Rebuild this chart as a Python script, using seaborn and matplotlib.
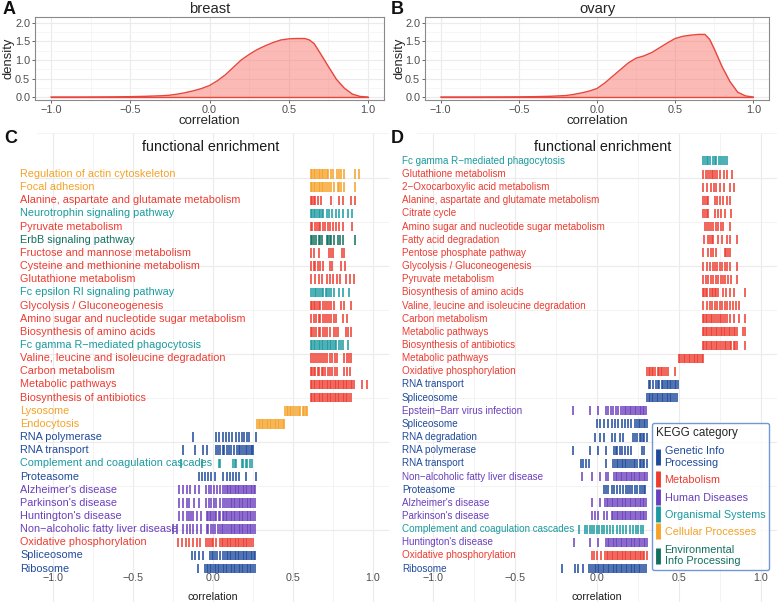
import numpy as np
import pandas as pd
import matplotlib
matplotlib.use("Agg")
import matplotlib.pyplot as plt
import seaborn as sns
from matplotlib.lines import Line2D

# ---------- data ----------

breast_x = [-1.0, -0.8, -0.6, -0.5, -0.4, -0.3, -0.25, -0.2, -0.15, -0.1, -0.05, 0.0, 0.05,
            0.1, 0.15, 0.2, 0.25, 0.3, 0.35, 0.4, 0.45, 0.5, 0.55, 0.6, 0.63, 0.66, 0.7,
            0.75, 0.8, 0.85, 0.9, 0.95, 1.0]
breast_y = [0.0, 0.0, 0.005, 0.01, 0.02, 0.035, 0.05, 0.08, 0.12, 0.17, 0.23, 0.31, 0.44,
            0.6, 0.8, 1.0, 1.15, 1.28, 1.38, 1.47, 1.54, 1.57, 1.58, 1.58, 1.54, 1.44, 1.17,
            0.82, 0.48, 0.24, 0.08, 0.015, 0.0]

ovary_x = [-1.0, -0.8, -0.6, -0.5, -0.4, -0.3, -0.2, -0.15, -0.1, -0.05, 0.0, 0.05, 0.1,
           0.15, 0.2, 0.25, 0.3, 0.35, 0.4, 0.45, 0.5, 0.55, 0.6, 0.65, 0.69, 0.72, 0.75,
           0.8, 0.85, 0.9, 0.95, 1.0]
ovary_y = [0.0, 0.0, 0.003, 0.005, 0.01, 0.02, 0.04, 0.07, 0.11, 0.16, 0.23, 0.38, 0.56,
           0.74, 0.92, 1.05, 1.11, 1.2, 1.33, 1.46, 1.58, 1.64, 1.67, 1.69, 1.69, 1.56, 1.3,
           0.82, 0.42, 0.13, 0.03, 0.0]

kegg_labels = {
    "G": "Genetic Info\nProcessing",
    "M": "Metabolism",
    "H": "Human Diseases",
    "O": "Organismal Systems",
    "C": "Cellular Processes",
    "E": "Environmental\nInfo Processing",
}
kegg_colors = {
    "G": "#1f4a9c",
    "M": "#ee3b30",
    "H": "#6a3fbd",
    "O": "#1a9a9f",
    "C": "#f5a226",
    "E": "#12705e",
}

breast_terms = [
    "Regulation of actin cytoskeleton", "Focal adhesion",
    "Alanine, aspartate and glutamate metabolism", "Neurotrophin signaling pathway",
    "Pyruvate metabolism", "ErbB signaling pathway", "Fructose and mannose metabolism",
    "Cysteine and methionine metabolism", "Glutathione metabolism",
    "Fc epsilon RI signaling pathway", "Glycolysis / Gluconeogenesis",
    "Amino sugar and nucleotide sugar metabolism", "Biosynthesis of amino acids",
    "Fc gamma R\u2212mediated phagocytosis", "Valine, leucine and isoleucine degradation",
    "Carbon metabolism", "Metabolic pathways", "Biosynthesis of antibiotics",
    "Lysosome", "Endocytosis", "RNA polymerase", "RNA transport",
    "Complement and coagulation cascades", "Proteasome", "Alzheimer's disease",
    "Parkinson's disease", "Huntington's disease", "Non\u2212alcoholic fatty liver disease",
    "Oxidative phosphorylation", "Spliceosome", "Ribosome",
]
breast_cats = ["C", "C", "M", "O", "M", "E", "M", "M", "M", "O", "M", "M", "M", "O", "M",
               "M", "M", "M", "C", "C", "G", "G", "O", "G", "H", "H", "H", "H", "M", "G", "G"]
breast_corr = [
    [0.61, 0.62, 0.63, 0.64, 0.65, 0.66, 0.67, 0.68, 0.69, 0.70, 0.71, 0.72, 0.735, 0.75,
     0.775, 0.79, 0.80, 0.82, 0.89, 0.91],
    [0.61, 0.62, 0.63, 0.64, 0.65, 0.66, 0.67, 0.68, 0.69, 0.70, 0.71, 0.725, 0.74, 0.755,
     0.78, 0.79, 0.80, 0.82, 0.89],
    [0.61, 0.62, 0.63, 0.64, 0.655, 0.675, 0.74, 0.79, 0.81, 0.865, 0.885],
    [0.61, 0.62, 0.63, 0.64, 0.65, 0.66, 0.67, 0.68, 0.69, 0.71, 0.725, 0.745, 0.77, 0.79,
     0.815, 0.845, 0.87],
    [0.61, 0.62, 0.635, 0.65, 0.66, 0.67, 0.685, 0.70, 0.72, 0.73, 0.75, 0.77, 0.79, 0.815,
     0.87],
    [0.61, 0.62, 0.63, 0.645, 0.66, 0.67, 0.68, 0.71, 0.72, 0.73, 0.74, 0.755, 0.78, 0.795,
     0.815, 0.89],
    [0.615, 0.63, 0.665, 0.725, 0.735, 0.75, 0.805, 0.82],
    [0.61, 0.63, 0.64, 0.655, 0.67, 0.685, 0.73, 0.745, 0.80, 0.825],
    [0.61, 0.635, 0.66, 0.68, 0.715, 0.73, 0.75, 0.775, 0.795, 0.83, 0.855, 0.88],
    [0.615, 0.625, 0.635, 0.645, 0.655, 0.67, 0.68, 0.69, 0.705, 0.715, 0.725, 0.74, 0.755,
     0.79, 0.81, 0.85],
    [0.61, 0.62, 0.63, 0.64, 0.65, 0.66, 0.67, 0.685, 0.70, 0.71, 0.725, 0.735, 0.755, 0.80,
     0.82, 0.865],
    [0.615, 0.63, 0.645, 0.66, 0.67, 0.685, 0.70, 0.71, 0.725, 0.74, 0.755, 0.77, 0.815,
     0.835],
    [0.61, 0.62, 0.63, 0.645, 0.66, 0.67, 0.685, 0.70, 0.71, 0.73, 0.755, 0.77, 0.78, 0.83,
     0.845, 0.86],
    [0.61, 0.62, 0.63, 0.64, 0.65, 0.66, 0.67, 0.68, 0.69, 0.70, 0.71, 0.72, 0.73, 0.74,
     0.75, 0.76, 0.77, 0.785, 0.80, 0.815, 0.845],
    [0.615, 0.625, 0.635, 0.65, 0.66, 0.675, 0.69, 0.70, 0.715, 0.73, 0.745, 0.76, 0.775,
     0.82, 0.835, 0.85, 0.865],
    [0.61, 0.62, 0.63, 0.64, 0.655, 0.665, 0.68, 0.69, 0.70, 0.72, 0.73, 0.745, 0.76, 0.775,
     0.82, 0.835, 0.855],
    [0.61, 0.62, 0.63, 0.64, 0.65, 0.66, 0.67, 0.68, 0.69, 0.70, 0.71, 0.72, 0.73, 0.74,
     0.75, 0.76, 0.77, 0.78, 0.79, 0.80, 0.81, 0.82, 0.83, 0.84, 0.85, 0.86, 0.87, 0.88,
     0.93, 0.96],
    [0.61, 0.62, 0.63, 0.64, 0.65, 0.66, 0.67, 0.68, 0.69, 0.70, 0.71, 0.72, 0.73, 0.74,
     0.75, 0.76, 0.77, 0.78, 0.79, 0.80, 0.81, 0.82, 0.83, 0.84, 0.85, 0.86],
    [0.45, 0.46, 0.47, 0.48, 0.49, 0.50, 0.51, 0.525, 0.535, 0.545, 0.56, 0.57, 0.58, 0.59],
    [0.275, 0.285, 0.295, 0.305, 0.315, 0.325, 0.335, 0.345, 0.355, 0.365, 0.375, 0.385,
     0.395, 0.405, 0.415, 0.425, 0.435, 0.445],
    [-0.123, 0.02, 0.04, 0.06, 0.08, 0.10, 0.12, 0.145, 0.165, 0.18, 0.195, 0.215, 0.227,
     0.27],
    [-0.185, -0.113, -0.06, -0.04, 0.02, 0.03, 0.045, 0.06, 0.07, 0.085, 0.10, 0.115, 0.13,
     0.15, 0.16, 0.17, 0.18, 0.195, 0.205, 0.215, 0.225, 0.235, 0.245, 0.25],
    [-0.2, -0.07, 0.035, 0.045, 0.125, 0.135, 0.145, 0.18, 0.19, 0.205, 0.215, 0.23, 0.245],
    [-0.085, -0.07, -0.05, -0.03, -0.01, 0.01, 0.065, 0.085, 0.105, 0.125, 0.145, 0.165,
     0.205, 0.27],
    [-0.215, -0.19, -0.163, -0.142, -0.115, -0.085, -0.045, -0.025, -0.01, 0.005, 0.025,
     0.045, 0.065, 0.075, 0.085, 0.095, 0.105, 0.115, 0.125, 0.135, 0.145, 0.155, 0.165,
     0.175, 0.185, 0.195, 0.205, 0.215, 0.225, 0.235, 0.245, 0.255, 0.265],
    [-0.215, -0.185, -0.163, -0.15, -0.12, -0.085, -0.045, -0.025, -0.01, 0.005, 0.02,
     0.045, 0.065, 0.075, 0.09, 0.10, 0.11, 0.12, 0.13, 0.14, 0.15, 0.16, 0.17, 0.18, 0.19,
     0.20, 0.21, 0.22, 0.23, 0.24, 0.25, 0.265],
    [-0.215, -0.185, -0.16, -0.148, -0.135, -0.123, -0.102, -0.077, -0.04, -0.03, -0.02,
     -0.01, 0.0, 0.01, 0.02, 0.035, 0.045, 0.06, 0.07, 0.08, 0.09, 0.10, 0.11, 0.12, 0.13,
     0.14, 0.15, 0.16, 0.17, 0.18, 0.19, 0.20, 0.21, 0.22, 0.23, 0.24, 0.25, 0.265],
    [-0.248, -0.227, -0.185, -0.165, -0.144, -0.123, -0.10, -0.077, -0.04, -0.03, -0.015,
     0.0, 0.015, 0.03, 0.045, 0.055, 0.065, 0.075, 0.09, 0.10, 0.11, 0.12, 0.13, 0.14, 0.15,
     0.16, 0.17, 0.18, 0.19, 0.20, 0.21, 0.22, 0.23, 0.24, 0.25, 0.265],
    [-0.217, -0.196, -0.169, -0.148, -0.123, -0.102, -0.081, -0.044, -0.029, -0.019, -0.008,
     0.002, 0.019, 0.045, 0.055, 0.065, 0.075, 0.085, 0.095, 0.105, 0.115, 0.125, 0.135,
     0.145, 0.155, 0.165, 0.175, 0.185, 0.195, 0.205, 0.215, 0.225, 0.235, 0.25],
    [-0.133, -0.113, -0.085, -0.06, -0.02, -0.008, 0.002, 0.013, 0.027, 0.044, 0.06, 0.075,
     0.085, 0.095, 0.105, 0.115, 0.125, 0.135, 0.145, 0.155, 0.165, 0.175, 0.185, 0.195,
     0.205, 0.215, 0.225, 0.235, 0.245, 0.255, 0.265],
    [-0.092, -0.05, -0.04, -0.03, -0.02, -0.01, 0.0, 0.01, 0.02, 0.03, 0.04, 0.05, 0.06,
     0.07, 0.08, 0.09, 0.10, 0.11, 0.12, 0.13, 0.14, 0.15, 0.16, 0.17, 0.18, 0.19, 0.20,
     0.21, 0.22, 0.23, 0.24, 0.25, 0.265],
]

ovary_terms = [
    "Fc gamma R\u2212mediated phagocytosis", "Glutathione metabolism",
    "2\u2212Oxocarboxylic acid metabolism", "Alanine, aspartate and glutamate metabolism",
    "Citrate cycle", "Amino sugar and nucleotide sugar metabolism", "Fatty acid degradation",
    "Pentose phosphate pathway", "Glycolysis / Gluconeogenesis", "Pyruvate metabolism",
    "Biosynthesis of amino acids", "Valine, leucine and isoleucine degradation",
    "Carbon metabolism", "Metabolic pathways", "Biosynthesis of antibiotics",
    "Metabolic pathways", "Oxidative phosphorylation", "RNA transport", "Spliceosome",
    "Epstein\u2212Barr virus infection", "Spliceosome", "RNA degradation", "RNA polymerase",
    "RNA transport", "Non\u2212alcoholic fatty liver disease", "Proteasome",
    "Alzheimer's disease", "Parkinson's disease", "Complement and coagulation cascades",
    "Huntington's disease", "Oxidative phosphorylation", "Ribosome",
]
ovary_cats = ["O", "M", "M", "M", "M", "M", "M", "M", "M", "M", "M", "M", "M", "M", "M",
              "M", "M", "G", "G", "H", "G", "G", "G", "G", "H", "G", "H", "H", "O", "H",
              "M", "G"]
ovary_corr = [
    [0.65, 0.66, 0.67, 0.68, 0.69, 0.71, 0.72, 0.73, 0.745, 0.76, 0.77, 0.78, 0.795],
    [0.65, 0.665, 0.68, 0.69, 0.70, 0.71, 0.72, 0.735, 0.75, 0.775, 0.795, 0.825],
    [0.65, 0.67, 0.695, 0.715, 0.73, 0.75, 0.775, 0.815, 0.84],
    [0.65, 0.66, 0.67, 0.68, 0.72, 0.735, 0.75, 0.77, 0.795, 0.815],
    [0.65, 0.66, 0.67, 0.68, 0.72, 0.74, 0.76, 0.78, 0.82],
    [0.66, 0.675, 0.685, 0.695, 0.71, 0.725, 0.74, 0.755, 0.77, 0.815],
    [0.655, 0.68, 0.69, 0.70, 0.71, 0.74, 0.765, 0.795, 0.815, 0.855],
    [0.65, 0.68, 0.695, 0.71, 0.73, 0.78, 0.79, 0.80, 0.815],
    [0.65, 0.67, 0.69, 0.71, 0.72, 0.735, 0.75, 0.765, 0.78, 0.795, 0.81, 0.855],
    [0.65, 0.665, 0.68, 0.695, 0.71, 0.725, 0.74, 0.755, 0.77, 0.785, 0.80, 0.82, 0.855],
    [0.645, 0.655, 0.665, 0.675, 0.69, 0.70, 0.71, 0.72, 0.73, 0.74, 0.77, 0.79, 0.81,
     0.835, 0.905],
    [0.65, 0.67, 0.69, 0.705, 0.72, 0.735, 0.75, 0.765, 0.78, 0.795, 0.81, 0.83, 0.85,
     0.865],
    [0.645, 0.655, 0.665, 0.675, 0.685, 0.695, 0.705, 0.715, 0.73, 0.74, 0.75, 0.76, 0.77,
     0.785, 0.795, 0.81, 0.835, 0.865, 0.905],
    [0.645, 0.655, 0.665, 0.675, 0.685, 0.695, 0.705, 0.715, 0.725, 0.735, 0.745, 0.755,
     0.765, 0.775, 0.785, 0.795, 0.805, 0.815, 0.825, 0.835, 0.845, 0.855, 0.89, 0.905],
    [0.645, 0.655, 0.665, 0.675, 0.685, 0.695, 0.705, 0.715, 0.725, 0.735, 0.745, 0.755,
     0.77, 0.78, 0.79, 0.80, 0.81, 0.82, 0.835, 0.845, 0.855, 0.905],
    [0.50, 0.51, 0.52, 0.53, 0.54, 0.55, 0.56, 0.57, 0.58, 0.59, 0.60, 0.61, 0.62, 0.63,
     0.64, 0.65],
    [0.305, 0.315, 0.325, 0.335, 0.345, 0.355, 0.37, 0.38, 0.39, 0.40, 0.41, 0.42, 0.435,
     0.475],
    [0.315, 0.325, 0.34, 0.36, 0.37, 0.38, 0.395, 0.405, 0.415, 0.425, 0.435, 0.445, 0.455,
     0.465, 0.475, 0.485, 0.495],
    [0.305, 0.315, 0.325, 0.335, 0.345, 0.355, 0.365, 0.375, 0.385, 0.395, 0.405, 0.415,
     0.425, 0.435, 0.445, 0.455, 0.465, 0.475, 0.49],
    [-0.145, -0.043, 0.008, 0.055, 0.07, 0.083, 0.10, 0.115, 0.13, 0.145, 0.16, 0.17, 0.18,
     0.19, 0.20, 0.21, 0.22, 0.23, 0.24, 0.25, 0.26, 0.27, 0.28, 0.29, 0.30],
    [-0.002, 0.018, 0.04, 0.07, 0.09, 0.11, 0.13, 0.15, 0.17, 0.19, 0.21, 0.235, 0.245,
     0.255, 0.265, 0.275, 0.285, 0.295, 0.305],
    [-0.012, 0.018, 0.04, 0.09, 0.11, 0.14, 0.16, 0.22, 0.235, 0.245, 0.26, 0.27, 0.28,
     0.29, 0.305],
    [-0.145, -0.043, 0.008, 0.055, 0.105, 0.115, 0.125, 0.14, 0.155, 0.17, 0.19, 0.21,
     0.275, 0.29],
    [-0.10, -0.085, -0.065, -0.047, 0.055, 0.095, 0.11, 0.12, 0.13, 0.14, 0.15, 0.16, 0.17,
     0.18, 0.19, 0.20, 0.215, 0.225, 0.235, 0.245, 0.26, 0.27, 0.28, 0.29, 0.305],
    [-0.094, -0.033, 0.018, 0.055, 0.07, 0.105, 0.115, 0.125, 0.135, 0.145, 0.155, 0.165,
     0.175, 0.185, 0.195, 0.205, 0.215, 0.225, 0.235, 0.245, 0.255, 0.265, 0.275, 0.285,
     0.295, 0.308],
    [0.04, 0.055, 0.07, 0.09, 0.105, 0.12, 0.14, 0.16, 0.175, 0.19, 0.20, 0.215, 0.23, 0.245,
     0.26, 0.275, 0.285, 0.295],
    [-0.033, 0.018, 0.05, 0.06, 0.07, 0.08, 0.09, 0.10, 0.11, 0.12, 0.13, 0.14, 0.15, 0.16,
     0.17, 0.18, 0.19, 0.20, 0.21, 0.22, 0.23, 0.24, 0.25, 0.26, 0.27, 0.28, 0.29, 0.30],
    [-0.033, -0.012, 0.008, 0.04, 0.06, 0.09, 0.10, 0.11, 0.12, 0.13, 0.14, 0.15, 0.16,
     0.17, 0.18, 0.19, 0.20, 0.21, 0.22, 0.23, 0.24, 0.25, 0.26, 0.27, 0.28, 0.29, 0.30],
    [-0.108, -0.073, -0.059, -0.043, -0.033, -0.018, -0.002, 0.014, 0.029, 0.043, 0.059,
     0.08, 0.10, 0.12, 0.14, 0.16, 0.18, 0.20, 0.218, 0.238, 0.253, 0.267, 0.283],
    [-0.141, -0.043, 0.008, 0.055, 0.065, 0.075, 0.085, 0.095, 0.105, 0.115, 0.125, 0.135,
     0.145, 0.155, 0.165, 0.175, 0.185, 0.195, 0.205, 0.215, 0.225, 0.235, 0.245, 0.255,
     0.265, 0.275, 0.285, 0.295, 0.305],
    [-0.033, -0.018, -0.002, 0.022, 0.05, 0.06, 0.07, 0.08, 0.09, 0.10, 0.11, 0.12, 0.13,
     0.14, 0.15, 0.16, 0.17, 0.18, 0.19, 0.20, 0.21, 0.22, 0.23, 0.24, 0.25, 0.26, 0.27,
     0.28, 0.29, 0.305],
    [-0.216, -0.135, -0.114, -0.088, -0.047, -0.035, -0.025, -0.015, -0.005, 0.005, 0.015,
     0.025, 0.035, 0.045, 0.055, 0.065, 0.075, 0.085, 0.095, 0.105, 0.115, 0.125, 0.135,
     0.145, 0.155, 0.165, 0.175, 0.185, 0.195, 0.205, 0.215, 0.225, 0.235, 0.245, 0.255,
     0.265, 0.275, 0.285, 0.30],
]

# ---------- layout ----------

W, H = 778, 602
GRID = "#ebebeb"
TICK_TXT = "#4d4d4d"
RED_LINE = "#e8453c"
RED_FILL = "#f8766d"

sns.set_theme(style="white")
plt.rcParams["font.family"] = ["Liberation Sans", "DejaVu Sans"]

fig = plt.figure(figsize=(W / 100, H / 100), dpi=100)


def px_axes(x0, y0, x1, y1):
    return fig.add_axes([x0 / W, 1 - y1 / H, (x1 - x0) / W, (y1 - y0) / H])


def enrichment_frame(terms, cats, corr):
    rows = []
    n = len(terms)
    for k, (t, c, vals) in enumerate(zip(terms, cats, corr)):
        for v in vals:
            rows.append({"row": n - 1 - k, "term": t, "category": c, "corr": v})
    return pd.DataFrame(rows)


def density_panel(ax, x, y, title, width_px):
    ax.fill_between(x, y, color=RED_FILL, alpha=0.5, lw=0, zorder=2)
    sns.lineplot(x=x, y=y, color=RED_LINE, lw=1.0, ax=ax, zorder=3)
    ax.plot([x[0], x[-1]], [0, 0], color=RED_LINE, lw=1.0, zorder=3)
    ax.set_xlim(-1.1, 1.1)
    ax.set_ylim(-0.08, 2.16)
    ax.set_xticks([-1, -0.5, 0, 0.5, 1])
    ax.set_xticks([-0.75, -0.25, 0.25, 0.75], minor=True)
    ax.set_yticks([0, 0.5, 1.0, 1.5, 2.0])
    ax.set_yticks([0.25, 0.75, 1.25, 1.75], minor=True)
    ax.grid(which="major", color=GRID, lw=0.8, zorder=0)
    ax.grid(which="minor", color="#f3f3f3", lw=0.5, zorder=0)
    ax.set_axisbelow(True)
    for s in ax.spines.values():
        s.set_color("#8a8a8a")
        s.set_linewidth(0.8)
    ax.tick_params(which="major", length=2.5, width=0.6, color="#4d4d4d",
                   labelsize=7.8, labelcolor=TICK_TXT, pad=1.0, bottom=True, left=True)
    ax.tick_params(which="minor", length=0)
    ax.set_title(title, fontsize=10.6, pad=3)
    ax.set_xlabel("correlation", fontsize=9.5, labelpad=0)
    ax.set_ylabel("density", fontsize=9.4)
    ax.yaxis.set_label_coords(-20 / width_px, 0.5)


def enrichment_panel(ax, terms, cats, corr, label_x, label_size, mark_s, title_x):
    df = enrichment_frame(terms, cats, corr)
    sns.scatterplot(data=df, x="corr", y="row", hue="category", palette=kegg_colors,
                    marker="|", s=mark_s, linewidth=1.3, alpha=0.85, legend=False,
                    ax=ax, zorder=3)
    n = len(terms)
    for k, (t, c) in enumerate(zip(terms, cats)):
        ax.text(label_x, n - 1 - k, t, color=kegg_colors[c], fontsize=label_size,
                ha="left", va="center", zorder=1)
    ax.set_xlim(-1.1, 1.1)
    ax.set_ylim(-2.54, 33.12)
    ax.set_xticks([-1, -0.5, 0, 0.5, 1])
    ax.set_xticks([-0.75, -0.25, 0.25, 0.75], minor=True)
    ax.set_yticks(np.arange(2.9, 33.2, 6.708))
    ax.set_yticks(np.arange(6.254, 33.2, 6.708), minor=True)
    ax.set_yticklabels([])
    ax.grid(which="major", color=GRID, lw=0.8, zorder=0)
    ax.grid(which="minor", color="#f1f1f1", lw=0.6, zorder=0)
    ax.set_axisbelow(True)
    for s in ax.spines.values():
        s.set_visible(False)
    ax.tick_params(which="both", length=0)
    ax.tick_params(axis="x", labelsize=7.7, labelcolor=TICK_TXT, pad=-21)
    ax.set_xlabel("")
    ax.set_ylabel("")
    ax.text(0.5, 5 / 469, "correlation", transform=ax.transAxes, ha="center",
            va="center", fontsize=7.7, color="#1a1a1a")
    ax.text(title_x, 0.970, "functional enrichment", transform=ax.get_xaxis_transform(),
            ha="center", va="center", fontsize=10.4, color="#1a1a1a")


ax_a = px_axes(35, 17, 384, 100)
ax_b = px_axes(425, 17, 769, 100)
ax_c = px_axes(37, 133, 389, 602)
ax_d = px_axes(417, 133, 777, 602)

density_panel(ax_a, breast_x, breast_y, "breast", 349)
density_panel(ax_b, ovary_x, ovary_y, "ovary", 344)
enrichment_panel(ax_c, breast_terms, breast_cats, breast_corr, -1.205, 7.8, 47, -0.012)
enrichment_panel(ax_d, ovary_terms, ovary_cats, ovary_corr, -1.193, 7.15, 42, 0.037)

# legend
order = ["G", "M", "H", "O", "C", "E"]
handles = [Line2D([0], [0], marker="|", ls="", color=kegg_colors[k], markersize=11,
                  markeredgewidth=3.5) for k in order]
leg = ax_d.legend(handles, [kegg_labels[k] for k in order], title="KEGG category",
                  labelcolor=[kegg_colors[k] for k in order], fontsize=7.8,
                  title_fontsize=8.4, loc="lower right",
                  bbox_to_anchor=(769 / W, 1 - 570 / H), bbox_transform=fig.transFigure,
                  frameon=True, fancybox=True, handlelength=0.35, handletextpad=0.45,
                  borderpad=0.35, labelspacing=0.68, alignment="left", borderaxespad=0)
leg.get_frame().set_edgecolor("#4f7fcf")
leg.get_frame().set_linewidth(1.0)
leg.get_frame().set_facecolor("white")
leg.set_zorder(5)

for letter, (lx, ly) in {"A": (3, 9), "B": (391, 9), "C": (4, 138), "D": (391, 138)}.items():
    fig.text(lx / W, 1 - ly / H, letter, fontsize=13, fontweight="bold", ha="left",
             va="center", color="#111111")

fig.savefig("out.png", dpi=100)
